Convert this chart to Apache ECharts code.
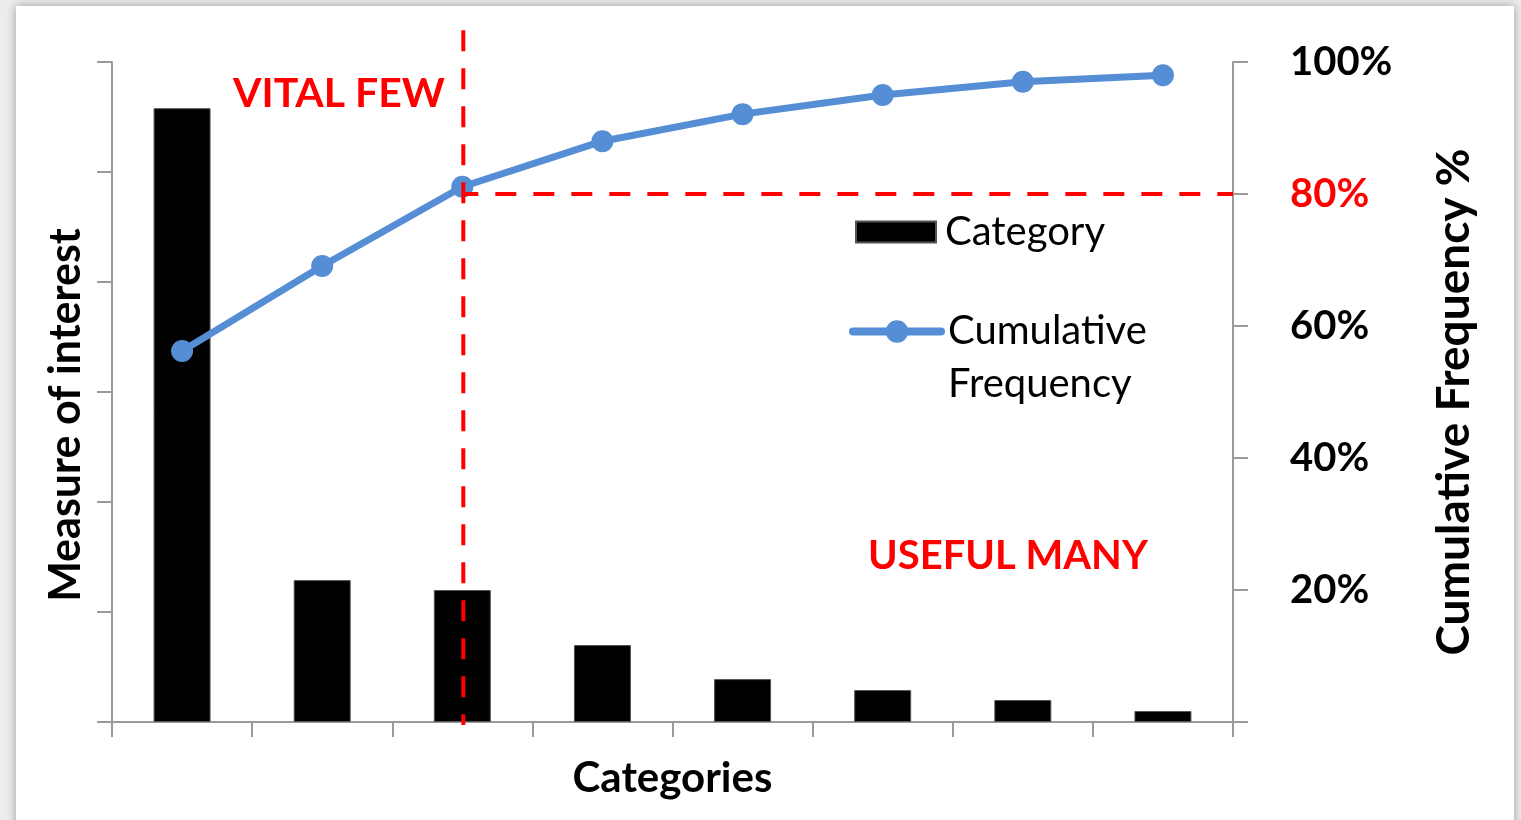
<!DOCTYPE html>
<html><head><meta charset="utf-8">
<script src="https://cdn.jsdelivr.net/npm/echarts@6/dist/echarts.min.js"></script>
<style>
html,body{margin:0;padding:0;width:1521px;height:820px;overflow:hidden;background:#ececec;}
#panel{position:absolute;left:16px;top:6px;width:1498px;height:840px;background:#fff;box-shadow:0 0 9px rgba(0,0,0,0.35);}
#chart{position:absolute;left:0;top:0;width:1521px;height:820px;}
</style></head><body><div id="panel"></div><div id="chart"></div>
<script>
const categories = ['C1','C2','C3','C4','C5','C6','C7','C8'];
const measureValues = [5.58, 1.29, 1.20, 0.70, 0.39, 0.29, 0.20, 0.10];
const cumulativePct = [56.2, 69.1, 81.1, 88.0, 92.1, 95.0, 97.0, 98.0];
const cutoffCategoryIndex = 2;
const cutoffPct = 80;
const dashTopPct = 104.8;

const FONT = 'Lato';
const AXIS_GREY = '#9a9a9a';
const RED = '#ff0000';
const BLUE = '#558ed5';

const chart = echarts.init(document.getElementById('chart'), null, {renderer: 'canvas'});
chart.setOption({
  backgroundColor: 'transparent',
  animation: false,
  textStyle: {fontFamily: FONT},
  grid: {left: 112, right: 288, top: 62, bottom: 98, containLabel: false},
  xAxis: {
    type: 'category', data: categories, boundaryGap: true,
    axisLine: {show: true, lineStyle: {color: AXIS_GREY, width: 2}},
    axisTick: {show: true, length: 15, interval: 0, alignWithLabel: false, inside: false, lineStyle: {color: AXIS_GREY, width: 2}},
    axisLabel: {show: false},
    splitLine: {show: false},
    name: 'Categories', nameLocation: 'middle', nameGap: 35,
    nameTextStyle: {fontFamily: FONT, fontWeight: 'bold', fontSize: 42, color: '#000'}
  },
  yAxis: [{
    type: 'value', min: 0, max: 6, interval: 1, position: 'left',
    axisLine: {show: true, lineStyle: {color: AXIS_GREY, width: 2}},
    axisTick: {show: true, length: 15, inside: false, lineStyle: {color: AXIS_GREY, width: 2}},
    axisLabel: {show: false},
    splitLine: {show: false},
    name: 'Measure of interest', nameLocation: 'middle', nameGap: 24,
    nameTextStyle: {fontFamily: FONT, fontWeight: 'bold', fontSize: 43, color: '#000', padding: [0, 46, 0, 0]}
  }, {
    type: 'value', min: 0, max: 100, interval: 20, position: 'right',
    axisLine: {show: true, lineStyle: {color: AXIS_GREY, width: 2}},
    axisTick: {show: true, length: 15, inside: false, lineStyle: {color: AXIS_GREY, width: 2}},
    axisLabel: {
      show: true, margin: 57, fontFamily: FONT, fontWeight: 'bold', fontSize: 40,
      formatter: v => v === 0 ? '' : v + '%',
      color: v => (+v === cutoffPct ? RED : '#000')
    },
    splitLine: {show: false},
    name: 'Cumulative Frequency %', nameLocation: 'middle', nameGap: 198,
    nameTextStyle: {fontFamily: FONT, fontWeight: 'bold', fontSize: 46, color: '#000', padding: [0, 20, 0, 0]}
  }],
  legend: [{
    data: ['Category'], orient: 'vertical', left: 855, top: 212, padding: 0,
    selectedMode: false, itemWidth: 80, itemHeight: 21, icon: 'rect',
    textStyle: {fontFamily: FONT, fontSize: 40, color: '#000', padding: [0, 0, 0, 4]}
  }, {
    data: ['Cumulative Frequency'], orient: 'vertical', left: 849, top: 252, padding: 0,
    selectedMode: false, itemWidth: 88, itemHeight: 28,
    lineStyle: {width: 8, cap: 'round'},
    formatter: () => ' \nCumulative\nFrequency',
    textStyle: {fontFamily: FONT, fontSize: 40, lineHeight: 53, color: '#000', padding: [0, 0, 0, 2]}
  }],
  graphic: [
    {type: 'text', left: 233, top: 73, z: 10, style: {text: 'VITAL FEW', font: 'bold 41px ' + FONT, fill: RED}},
    {type: 'text', left: 868, top: 536, z: 10, style: {text: 'USEFUL MANY', font: 'bold 40px ' + FONT, fill: RED}}
  ],
  series: [{
    name: 'Category', type: 'bar', data: measureValues, yAxisIndex: 0, barWidth: 57,
    itemStyle: {color: '#000', borderColor: '#555', borderWidth: 1}, z: 2
  }, {
    name: 'Cumulative Frequency', type: 'line', data: cumulativePct, yAxisIndex: 1,
    symbol: 'circle', symbolSize: 22, showSymbol: true,
    lineStyle: {color: BLUE, width: 7, cap: 'round', join: 'round'}, itemStyle: {color: BLUE}, z: 3
  }, {
    name: 'cutoff', type: 'custom', yAxisIndex: 1, clip: false, z: 5, silent: true,
    data: [[cutoffCategoryIndex, cutoffPct]],
    renderItem: (params, api) => {
      const cs = params.coordSys;
      const xi = api.value(0), yv = api.value(1);
      const top = api.coord([xi, dashTopPct]);
      const bot = api.coord([xi, 0]);
      const mid = api.coord([xi, yv]);
      const rightX = cs.x + cs.width;
      const st = {stroke: RED, lineWidth: 4, lineDash: [21, 17], fill: null};
      return {type: 'group', children: [
        {type: 'line', shape: {x1: top[0] + 1, y1: top[1], x2: bot[0] + 1, y2: bot[1] + 3}, style: st},
        {type: 'line', shape: {x1: mid[0] + 1, y1: mid[1], x2: rightX, y2: mid[1]}, style: Object.assign({}, st, {lineDashOffset: 6})}
      ]};
    }
  }]
});
</script></body></html>
